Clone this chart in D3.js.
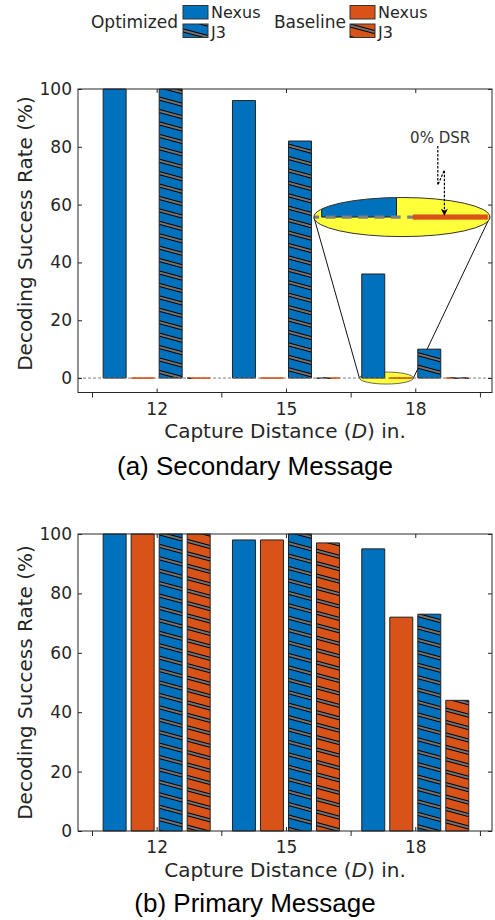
<!DOCTYPE html>
<html>
<head>
  <script src="https://d3js.org/d3.v7.min.js"></script>
  <style>
    body {
      margin: 0;
      background-color: #fff;
    }
    text {
      font-family: "DejaVu Sans", sans-serif;
    }
  </style>
</head>
<body>
  <script>
    const distances = [12, 15, 18];
    const seriesNames = ["Optimized Nexus", "Baseline Nexus", "Optimized J3", "Baseline J3"];

    // (a) secondary message
    const secOptNexus = [100, 96, 36];
    const secBaseNexus = [0, 0, 0];
    const secOptJ3 = [100, 82, 10];
    const secBaseJ3 = [0, 0, 0];

    // (b) primary message
    const priOptNexus = [100, 98, 95];
    const priBaseNexus = [100, 98, 72];
    const priOptJ3 = [100, 100, 73];
    const priBaseJ3 = [100, 97, 44];

    const yTicks = [0, 20, 40, 60, 80, 100];
    const sepTicks = [10.5, 13.5, 16.5, 19.5];

    const width = 495;
    const height = 920;
    const blue = "#0072BD";
    const orange = "#D95319";
    const ink = "#262626";

    const svg = d3.select("body").append("svg")
      .attr("width", width)
      .attr("height", height);

    const defs = svg.append("defs");

    function hatch(id, color) {
      const p = defs.append("pattern")
        .attr("id", id)
        .attr("patternUnits", "userSpaceOnUse")
        .attr("width", 12)
        .attr("height", 12)
        .attr("patternTransform", "rotate(15)");
      p.append("rect").attr("width", 12).attr("height", 12).attr("fill", color);
      p.append("rect").attr("x", 0).attr("y", 4).attr("width", 12).attr("height", 4)
        .attr("fill", "#000");
      p.append("rect").attr("x", 0).attr("y", 5.5).attr("width", 12).attr("height", 1)
        .attr("fill", "#e6e6e6");
    }
    hatch("hatchBlue", blue);
    hatch("hatchOrange", orange);

    const fills = [blue, orange, "url(#hatchBlue)", "url(#hatchOrange)"];

    const x = d3.scaleLinear().domain([10.175, 19.78]).range([78, 492]);
    const x1 = d3.scaleBand().domain(seriesNames).range([-1.3, 1.3])
      .paddingInner(0.18).paddingOuter(0.09);

    function rowsOf(values) {
      return distances.flatMap((d, i) => seriesNames.map((s, j) => ({
        d: d, s: s, v: values[j][i], fill: fills[j]
      })));
    }

    function barX(r) { return x(r.d + x1(r.s)); }
    function barW(r) { return x(r.d + x1(r.s) + x1.bandwidth()) - x(r.d + x1(r.s)); }

    function drawPanel(id, y, values, zeroLine) {
      const rows = rowsOf(values);
      const g = svg.append("g").attr("id", id);

      g.selectAll("rect.bar")
        .data(rows.filter(r => r.v > 0))
        .enter().append("rect")
        .attr("class", "bar")
        .attr("x", barX)
        .attr("width", barW)
        .attr("y", r => y(r.v))
        .attr("height", r => y(0) - y(r.v))
        .attr("fill", r => r.fill)
        .attr("stroke", "#222")
        .attr("stroke-width", 1)
        .attr("vector-effect", "non-scaling-stroke");

      if (zeroLine) {
        g.append("line")
          .attr("x1", x.range()[0]).attr("x2", x.range()[1])
          .attr("y1", y(0)).attr("y2", y(0))
          .attr("stroke", "#808080")
          .attr("stroke-width", 1)
          .attr("stroke-dasharray", "3,2");
      }

      // zero-height bars show as a thin strip
      g.selectAll("rect.zero")
        .data(rows.filter(r => r.v === 0))
        .enter().append("rect")
        .attr("class", "zero")
        .attr("x", barX)
        .attr("width", barW)
        .attr("y", y(0) - 0.8)
        .attr("height", 1.6)
        .attr("fill", r => r.fill);
      return g;
    }

    function drawAxes(y, yLow) {
      const g = svg.append("g");
      const [x0, xr] = x.range();
      const top = y(100), bottom = y(yLow);

      g.append("rect")
        .attr("x", x0).attr("y", top)
        .attr("width", xr - x0).attr("height", bottom - top)
        .attr("fill", "none").attr("stroke", ink).attr("stroke-width", 1);

      const styleAxis = a => {
        a.select(".domain").remove();
        a.selectAll("line").attr("stroke", ink);
        a.selectAll("text").attr("fill", ink).style("font-size", "17px")
          .style("font-family", "DejaVu Sans");
      };

      g.append("g").attr("transform", `translate(0,${bottom})`)
        .call(d3.axisBottom(x).tickValues(distances).tickSize(-4).tickPadding(10))
        .call(styleAxis);
      g.append("g").attr("transform", `translate(0,${bottom})`)
        .call(d3.axisBottom(x).tickValues(sepTicks).tickSize(5).tickFormat(""))
        .call(styleAxis);
      g.append("g").attr("transform", `translate(0,${top})`)
        .call(d3.axisTop(x).tickValues(distances).tickSize(-4).tickFormat(""))
        .call(styleAxis);
      g.append("g").attr("transform", `translate(${x0},0)`)
        .call(d3.axisLeft(y).tickValues(yTicks).tickSize(-4).tickPadding(6))
        .call(styleAxis);
      g.append("g").attr("transform", `translate(${xr},0)`)
        .call(d3.axisRight(y).tickValues(yTicks).tickSize(-4).tickFormat(""))
        .call(styleAxis);

      const xl = g.append("text")
        .attr("x", (x0 + xr) / 2)
        .attr("y", bottom + 45.5)
        .attr("text-anchor", "middle")
        .attr("fill", ink)
        .style("font-size", "20px");
      xl.append("tspan").text("Capture Distance (");
      xl.append("tspan").style("font-style", "italic").text("D");
      xl.append("tspan").text(") in.");

      g.append("text")
        .attr("transform", `translate(25,${(y(0) + y(100)) / 2}) rotate(-90)`)
        .attr("dy", "0.35em")
        .attr("text-anchor", "middle")
        .attr("fill", ink)
        .style("font-size", "20px")
        .text("Decoding Success Rate (%)");
    }

    function caption(txt, yPos) {
      svg.append("text")
        .attr("x", 255).attr("y", yPos)
        .attr("text-anchor", "middle")
        .attr("fill", "#000")
        .style("font-family", "Liberation Sans, Arial, sans-serif")
        .style("font-size", "26px")
        .text(txt);
    }

    // ---------- (a) Secondary Message ----------
    const yA = d3.scaleLinear().domain([-5, 100]).range([392.5, 89]);

    // magnifier: small lens near the 18 in. group, big lens up in the empty area
    const lensSmall = { cx: x(17.33), cy: yA(0), rx: 27, ry: 6 };
    const k = 3.26;
    const lensBig = { cx: x(17.69), cy: yA(55.7), rx: lensSmall.rx * k, ry: lensSmall.ry * k };

    svg.append("ellipse")
      .attr("cx", lensSmall.cx).attr("cy", lensSmall.cy)
      .attr("rx", lensSmall.rx).attr("ry", lensSmall.ry)
      .attr("fill", "#ffff3a").attr("stroke", "#444").attr("stroke-width", 0.8);
    [-1, 1].forEach(sgn => {
      svg.append("line")
        .attr("x1", lensBig.cx + sgn * lensBig.rx).attr("y1", lensBig.cy)
        .attr("x2", lensSmall.cx + sgn * lensSmall.rx).attr("y2", lensSmall.cy)
        .attr("stroke", "#111").attr("stroke-width", 1);
    });

    drawPanel("secContent", yA, [secOptNexus, secBaseNexus, secOptJ3, secBaseJ3], true);
    drawAxes(yA, -5);

    defs.append("clipPath").attr("id", "lens")
      .append("ellipse")
      .attr("cx", lensBig.cx).attr("cy", lensBig.cy)
      .attr("rx", lensBig.rx).attr("ry", lensBig.ry);

    svg.append("ellipse")
      .attr("cx", lensBig.cx).attr("cy", lensBig.cy)
      .attr("rx", lensBig.rx).attr("ry", lensBig.ry)
      .attr("fill", "#ffff3a");
    svg.append("g").attr("clip-path", "url(#lens)")
      .append("g")
      .attr("transform", `translate(${lensBig.cx},${lensBig.cy}) scale(${k}) translate(${-lensSmall.cx},${-lensSmall.cy})`)
      .append("use").attr("href", "#secContent");
    svg.append("ellipse")
      .attr("cx", lensBig.cx).attr("cy", lensBig.cy)
      .attr("rx", lensBig.rx).attr("ry", lensBig.ry)
      .attr("fill", "none").attr("stroke", "#333").attr("stroke-width", 1);

    // "0% DSR" annotation
    defs.append("marker").attr("id", "arrow")
      .attr("viewBox", "0 0 10 10").attr("refX", 9).attr("refY", 5)
      .attr("markerWidth", 8).attr("markerHeight", 7)
      .attr("markerUnits", "userSpaceOnUse")
      .attr("orient", "auto")
      .append("path").attr("d", "M0,0 L10,5 L0,10 L3,5 Z").attr("fill", "#000");

    const ax = x(17.88), ay = yA(81.3);
    svg.append("text")
      .attr("x", ax).attr("y", ay)
      .attr("fill", "#333")
      .style("font-size", "15px")
      .text("0% DSR");
    svg.append("path")
      .attr("d", `M${ax + 27.7},${ay + 3} V${ay + 42} L${ax + 34.3},${ay + 27} V${ay + 72}`)
      .attr("fill", "none")
      .attr("stroke", "#000")
      .attr("stroke-width", 1.2)
      .attr("stroke-dasharray", "2.5,1.5")
      .attr("marker-end", "url(#arrow)");

    caption("(a) Secondary Message", 475);

    // ---------- (b) Primary Message ----------
    const yB = d3.scaleLinear().domain([0, 100]).range([831, 534]);
    drawPanel("priContent", yB, [priOptNexus, priBaseNexus, priOptJ3, priBaseJ3], false);
    drawAxes(yB, 0);
    caption("(b) Primary Message", 912);

    // ---------- legend ----------
    const legend = svg.append("g");
    const groups = [
      { title: "Optimized", tx: 178, sx: 183, fills: [blue, "url(#hatchBlue)"] },
      { title: "Baseline", tx: 346, sx: 350, fills: [orange, "url(#hatchOrange)"] }
    ];
    groups.forEach(gr => {
      legend.append("text")
        .attr("x", gr.tx).attr("y", 27.5)
        .attr("text-anchor", "end")
        .attr("fill", ink)
        .style("font-size", "17px")
        .text(gr.title);
      ["Nexus", "J3"].forEach((lab, i) => {
        legend.append("rect")
          .attr("x", gr.sx).attr("y", 5.5 + i * 18.5)
          .attr("width", 25).attr("height", 13.5)
          .attr("fill", gr.fills[i])
          .attr("stroke", "#333").attr("stroke-width", 1);
        legend.append("text")
          .attr("x", gr.sx + 28).attr("y", 18 + i * 19.5)
          .attr("fill", ink)
          .style("font-size", "16px")
          .text(lab);
      });
    });
  </script>
</body>
</html>
